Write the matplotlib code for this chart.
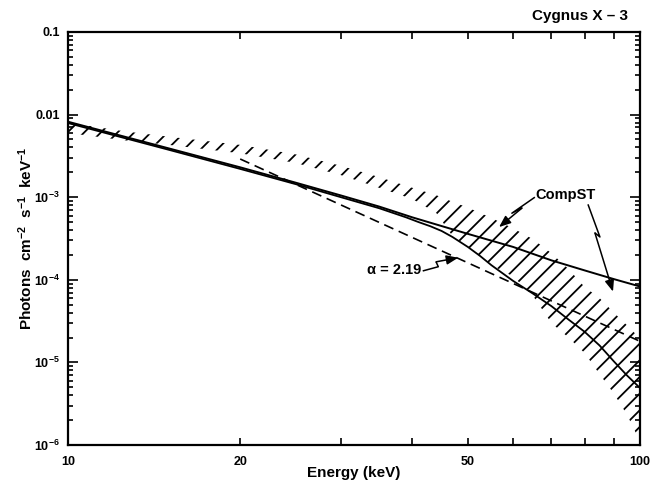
import matplotlib
matplotlib.use("Agg")
import matplotlib.pyplot as plt
from matplotlib.ticker import LogLocator, NullFormatter, FixedLocator

plt.rcParams["font.family"] = ["Liberation Sans", "DejaVu Sans"]
plt.rcParams["font.weight"] = "bold"
plt.rcParams["axes.labelweight"] = "bold"
plt.rcParams["mathtext.fontset"] = "custom"
plt.rcParams["mathtext.rm"] = "Liberation Sans:bold"
plt.rcParams["mathtext.default"] = "regular"
plt.rcParams["hatch.linewidth"] = 1.3

# ---------------------------------------------------------------------------
# data (energy in keV, flux in photons cm^-2 s^-1 keV^-1)
# ---------------------------------------------------------------------------
band_energy = [10, 12.5, 15, 20, 25, 30, 35, 40, 44, 47, 50, 55, 60, 65, 70,
               75, 80, 85, 90, 95, 100]
band_upper = [8.0e-3, 6.3e-3, 5.4e-3, 4.3e-3, 3.3e-3, 2.4e-3, 1.75e-3, 1.3e-3,
              1.06e-3, 8.8e-4, 7.5e-4, 5.6e-4, 4.2e-4, 3.1e-4, 2.1e-4, 1.35e-4,
              8.2e-5, 6.0e-5, 4.0e-5, 2.8e-5, 1.95e-5]
band_lower = [6.0e-3, 4.9e-3, 4.3e-3, 3.4e-3, 2.6e-3, 1.85e-3, 1.3e-3, 9.5e-4,
              6.5e-4, 3.4e-4, 2.5e-4, 1.5e-4, 1.1e-4, 6.4e-5, 3.0e-5, 2.0e-5,
              1.3e-5, 7.2e-6, 4.2e-6, 2.3e-6, 1.1e-6]

compst1_energy = [10, 15, 20, 25, 30, 35, 40, 50, 60, 70, 80, 90, 100]
compst1_flux = [8.2e-3, 3.9e-3, 2.3e-3, 1.5e-3, 1.05e-3, 7.7e-4, 5.7e-4,
                3.6e-4, 2.5e-4, 1.72e-4, 1.3e-4, 1.02e-4, 8.3e-5]

compst2_energy = [10, 15, 20, 25, 30, 35, 39, 41, 43, 45, 47, 50, 52.5, 55,
                  60, 65, 70, 75, 80, 85, 90, 95, 100]
compst2_flux = [7.9e-3, 3.75e-3, 2.2e-3, 1.44e-3, 1.0e-3, 7.35e-4, 5.7e-4,
                5.0e-4, 4.45e-4, 3.9e-4, 3.3e-4, 2.5e-4, 1.95e-4, 1.5e-4,
                9.7e-5, 6.8e-5, 4.8e-5, 3.3e-5, 2.35e-5, 1.6e-5, 1.03e-5,
                6.9e-6, 4.9e-6]

powerlaw_energy = [20, 100]
powerlaw_flux = [2.9e-3, 1.8e-5]

# annotation leaders (zig-zag "lightning" arrows), data coordinates
compst_label_pos = (74.0, 1.06e-3)
compst_arrow1 = [(65.5, 1.0e-3), (59.7, 6.4e-4), (62.2, 7.4e-4), (56.7, 4.35e-4)]
compst_arrow2 = [(81.1, 8.2e-4), (85.1, 3.3e-4), (83.4, 3.7e-4), (89.7, 7.2e-5)]
alpha_label_pos = (37.2, 1.32e-4)
alpha_arrow = [(41.7, 1.28e-4), (44.4, 1.44e-4), (44.0, 1.65e-4), (48.1, 1.85e-4)]

y_ticks = [1e-6, 1e-5, 1e-4, 1e-3, 1e-2, 1e-1]
y_ticklabels = ["10$^{-6}$", "10$^{-5}$", "10$^{-4}$", "10$^{-3}$", "0.01", "0.1"]
x_ticks = [10, 20, 50, 100]
x_ticklabels = ["10", "20", "50", "100"]
x_minor = [30, 40, 60, 70, 80, 90]


def zigzag_arrow(ax, pts):
    xs, ys = zip(*pts[:-1])
    ax.plot(xs, ys, color="black", lw=1.1, solid_capstyle="butt")
    ax.annotate("", xy=pts[-1], xytext=pts[-2],
                arrowprops=dict(arrowstyle="-|>,head_length=0.7,head_width=0.28",
                                color="black", lw=1.1, shrinkA=0, shrinkB=0))


fig = plt.figure(figsize=(6.55, 4.87), dpi=100)
ax = fig.add_axes([68 / 655, 42 / 487, 572 / 655, 413 / 487])
ax.set_xscale("log")
ax.set_yscale("log")

ax.fill_between(band_energy, band_lower, band_upper, facecolor="none",
                edgecolor="black", hatch="//", linewidth=0)
ax.plot(compst1_energy, compst1_flux, color="black", lw=1.4)
ax.plot(compst2_energy, compst2_flux, color="black", lw=1.3)
ax.plot(powerlaw_energy, powerlaw_flux, color="black", lw=1.2, dashes=(6, 3.5))

ax.text(*compst_label_pos, "CompST", ha="center", va="center", fontsize=10.5)
ax.text(*alpha_label_pos, "α = 2.19", ha="center", va="center", fontsize=10.5)
zigzag_arrow(ax, compst_arrow1)
zigzag_arrow(ax, compst_arrow2)
zigzag_arrow(ax, alpha_arrow)

ax.set_xlim(10, 100)
ax.set_ylim(1e-6, 0.1)

ax.set_yticks(y_ticks)
ax.set_yticklabels(y_ticklabels)
ax.yaxis.set_minor_locator(LogLocator(base=10, subs=range(2, 10)))
ax.yaxis.set_minor_formatter(NullFormatter())
ax.set_xticks(x_ticks)
ax.set_xticklabels(x_ticklabels)
ax.xaxis.set_minor_locator(FixedLocator(x_minor))
ax.xaxis.set_minor_formatter(NullFormatter())

ax.tick_params(which="both", direction="in", top=True, right=True, width=1.2)
ax.tick_params(axis="y", which="major", length=7, pad=6, labelsize=9)
ax.tick_params(axis="y", which="minor", length=3.5)
ax.tick_params(axis="x", which="both", length=5, pad=8, labelsize=9)
for sp in ax.spines.values():
    sp.set_linewidth(1.6)

ax.set_xlabel("Energy (keV)", fontsize=11)
ax.xaxis.set_label_coords(0.5, -0.051)
ax.set_ylabel("Photons  cm$^{-2}$  s$^{-1}$  keV$^{-1}$", fontsize=11)
ax.yaxis.set_label_coords(-0.058, 0.5)

fig.text(628 / 655, 1 - 16 / 487, "Cygnus X – 3", ha="right", va="center",
         fontsize=11)

fig.savefig("out.png", dpi=100)
